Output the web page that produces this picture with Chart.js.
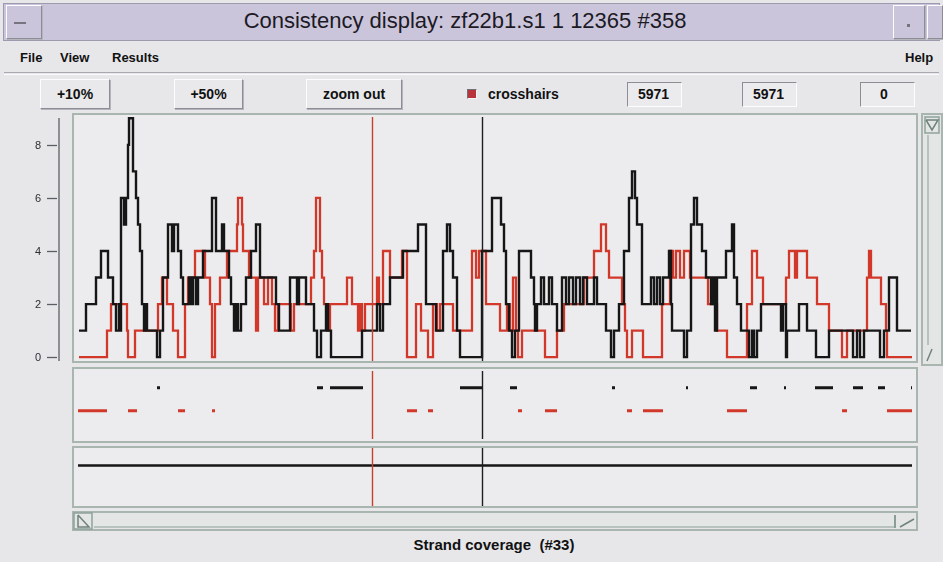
<!DOCTYPE html>
<html>
<head>
<meta charset="utf-8">
<title>Consistency display</title>
<script src="https://cdn.jsdelivr.net/npm/chart.js@4.4.1/dist/chart.umd.min.js"></script>
<style>
  body { margin:0; width:943px; height:562px; background:#e7e7ea; position:relative; overflow:hidden;
         font-family:"Liberation Sans", Arial, sans-serif; color:#111; }
  .box { position:absolute; box-sizing:border-box; }
  .raised { border:1px solid; border-color:#fdfdff #8d8d96 #8d8d96 #fdfdff; box-shadow:1px 1px 0 #b4b4bc; }
  .sunken { border:1px solid; border-color:#8d8d96 #fdfdff #fdfdff #8d8d96; }
  .menu { position:absolute; top:50px; font-weight:bold; font-size:13px; }
  .btn { top:79px; height:30px; background:#e9e9ec; font-weight:bold; font-size:14px; text-align:center; line-height:28px; }
  .field { top:82px; height:25px; background:#ebebee; font-weight:bold; font-size:14px; line-height:23px; padding-left:10px; }
  canvas { position:absolute; }
</style>
</head>
<body>

<!-- window title -->
<div class="box" style="left:3px;top:3px;width:937px;height:38px;background:#cbc5dc;border:1px solid #9d99ae;"></div>
<div class="box raised" style="left:6px;top:5px;width:36px;height:34px;background:#cbc5dc;"></div>
<div class="box" style="left:14px;top:22px;width:12px;height:2px;background:#77737f;"></div>
<div class="box" style="left:3px;top:8px;width:924px;text-align:center;font-size:22px;color:#1c1a24;">Consistency display: zf22b1.s1 1 12365 #358</div>
<div class="box raised" style="left:893px;top:5px;width:32px;height:34px;background:#cbc5dc;"></div>
<div class="box" style="left:907px;top:24px;width:3px;height:3px;background:#77737f;"></div>
<div class="box raised" style="left:927px;top:5px;width:16px;height:34px;background:#cbc5dc;"></div>

<!-- menu bar -->
<div class="menu" style="left:20px;">File</div>
<div class="menu" style="left:60px;">View</div>
<div class="menu" style="left:112px;">Results</div>
<div class="menu" style="left:905px;">Help</div>
<div class="box" style="left:4px;top:72px;width:935px;height:3px;border-top:1px solid #a9a9b2;border-bottom:1px solid #fbfbfd;"></div>

<!-- toolbar -->
<div class="box raised btn" style="left:40px;width:70px;">+10%</div>
<div class="box raised btn" style="left:174px;width:69px;">+50%</div>
<div class="box raised btn" style="left:306px;width:96px;">zoom out</div>
<div class="box" style="left:467px;top:89px;width:10px;height:10px;background:#b8343a;border:1px solid;border-color:#6e6e76 #f4f4f6 #f4f4f6 #6e6e76;"></div>
<div class="box" style="left:488px;top:86px;font-weight:bold;font-size:14px;">crosshairs</div>
<div class="box sunken field" style="left:627px;width:55px;">5971</div>
<div class="box sunken field" style="left:742px;width:55px;">5971</div>
<div class="box sunken field" style="left:860px;width:55px;padding-left:19px;">0</div>

<!-- right scrollbar -->
<div class="box" style="left:921px;top:113px;width:22px;height:253px;border:2px solid #a9b6b0;background:#e4e6e6;"></div>
<svg class="box" style="left:921px;top:113px;" width="22" height="253">
  <rect x="4" y="4" width="14" height="16" fill="none" stroke="#8fa29a" stroke-width="1.5"/>
  <polyline points="5,7 11,17 17,7 5,7" fill="none" stroke="#6f837b" stroke-width="1.5"/>
  <line x1="7" y1="22" x2="7" y2="232" stroke="#a9b6b0" stroke-width="1.5"/>
  <line x1="6" y1="248" x2="11" y2="236" stroke="#6f837b" stroke-width="1.5"/>
</svg>

<!-- charts -->
<canvas id="mainChart" width="898" height="250" style="left:20px;top:113px;"></canvas>
<canvas id="gapChart" width="846" height="76" style="left:72px;top:367px;"></canvas>
<canvas id="spanChart" width="846" height="62" style="left:72px;top:446px;"></canvas>

<!-- bottom scrollbar -->
<div class="box" style="left:72px;top:511px;width:846px;height:20px;border:2px solid #a9b6b0;background:#e4e6e6;"></div>
<svg class="box" style="left:72px;top:511px;" width="846" height="20">
  <rect x="2" y="2" width="18" height="16" fill="none" stroke="#8fa29a" stroke-width="1.5"/>
  <polyline points="6,4 6,16 17,16 6,4" fill="none" stroke="#6f837b" stroke-width="1.5"/>
  <line x1="22" y1="16" x2="822" y2="16" stroke="#a9b6b0" stroke-width="1.5"/>
  <line x1="823" y1="4" x2="823" y2="17" stroke="#6f837b" stroke-width="1.5"/>
  <line x1="828" y1="16" x2="842" y2="8" stroke="#6f837b" stroke-width="1.5"/>
</svg>

<div class="box" style="left:0;top:536px;width:988px;text-align:center;font-weight:bold;font-size:15px;">Strand coverage&nbsp; (#33)</div>

<script>
// coverage steps: position where a new depth starts, and the depth from there on
const blackPos = [
  7, 14, 24, 29, 36, 41, 44, 47, 48, 49,
  52, 54, 56, 57, 61, 64, 66, 68, 70, 72,
  73, 75, 85, 88, 91, 96, 100, 102, 106, 109,
  111, 117, 119, 121, 124, 126, 131, 140, 144, 150,
  152, 157, 159, 162, 164, 166, 169, 174, 179, 184,
  188, 204, 207, 218, 225, 227, 234, 242, 245, 249,
  254, 256, 259, 290, 305, 308, 311, 318, 331, 346,
  354, 364, 371, 375, 378, 381, 385, 388, 410, 420,
  429, 432, 434, 437, 440, 443, 447, 459, 462, 463,
  465, 469, 472, 477, 480, 485, 490, 494, 497, 501,
  504, 508, 511, 515, 522, 525, 534, 539, 542, 547,
  552, 557, 560, 563, 565, 570, 579, 582, 585, 588,
  591, 597, 599, 600, 612, 615, 619, 622, 625, 630,
  634, 639, 641, 643, 645, 654, 660, 662, 665, 669,
  677, 680, 682, 685, 689, 709, 711, 714, 715, 727,
  735, 744, 757, 781, 785, 788, 792, 808, 812, 817,
  825, 839
];
const blackCov = [
  1, 2, 3, 4, 3, 2, 1, 2, 1, 6,
  5, 6, 8, 9, 7, 6, 5, 4, 2, 1,
  2, 1, 0, 1, 3, 5, 4, 5, 4, 3,
  2, 3, 2, 3, 2, 3, 4, 6, 4, 5,
  4, 3, 2, 1, 2, 1, 2, 3, 4, 5,
  3, 2, 1, 3, 2, 3, 2, 1, 0, 1,
  2, 1, 0, 1, 2, 1, 2, 3, 4, 5,
  2, 1, 4, 5, 4, 3, 1, 0, 4, 6,
  5, 4, 2, 1, 0, 1, 4, 3, 2, 1,
  2, 3, 2, 3, 2, 1, 3, 2, 3, 2,
  3, 2, 3, 2, 3, 2, 1, 0, 1, 2,
  4, 6, 7, 6, 5, 2, 3, 2, 3, 2,
  3, 4, 2, 1, 0, 1, 5, 6, 5, 4,
  3, 2, 3, 1, 3, 4, 5, 3, 2, 1,
  0, 1, 0, 1, 2, 1, 2, 0, 1, 2,
  1, 0, 1, 0, 1, 0, 1, 0, 1, 3,
  1, 1
];

const redPos = [
  7, 35, 39, 55, 56, 63, 86, 90, 95, 101,
  106, 113, 116, 123, 133, 138, 140, 143, 148, 155,
  165, 166, 170, 171, 177, 184, 186, 192, 196, 200,
  203, 206, 219, 222, 239, 242, 244, 248, 250, 252,
  255, 258, 275, 280, 286, 288, 290, 293, 305, 307,
  311, 318, 330, 335, 344, 349, 356, 361, 365, 368,
  381, 400, 404, 407, 414, 428, 435, 438, 441, 444,
  446, 450, 473, 485, 492, 512, 522, 529, 534, 537,
  550, 553, 555, 560, 571, 590, 598, 601, 604, 608,
  612, 618, 636, 645, 655, 675, 680, 685, 691, 714,
  717, 723, 725, 735, 745, 757, 770, 775, 795, 797,
  799, 809, 814, 815, 840
];
const redCov = [
  0, 1, 2, 1, 0, 1, 2, 3, 2, 1,
  0, 2, 3, 4, 3, 2, 0, 2, 3, 4,
  5, 6, 5, 4, 3, 1, 3, 2, 3, 2,
  1, 2, 1, 2, 3, 4, 6, 4, 3, 2,
  1, 2, 3, 2, 1, 2, 1, 2, 3, 2,
  4, 3, 4, 0, 2, 1, 0, 2, 1, 2,
  1, 4, 3, 4, 2, 1, 2, 1, 3, 1,
  0, 1, 0, 1, 2, 3, 4, 5, 4, 3,
  2, 1, 0, 1, 0, 2, 4, 3, 4, 3,
  4, 3, 2, 1, 0, 2, 4, 3, 2, 3,
  4, 3, 4, 3, 2, 1, 0, 1, 3, 4,
  3, 2, 1, 0, 0
];

// stretches with no coverage, shown in the middle strip
const blackGaps = [[85,88],[245,251],[258,291],[388,411],[438,445],[540,543],[614,616],
                   [678,685],[712,714],[743,761],[781,791],[806,813],[839,840]];
const redGaps = [[6,35],[56,65],[106,113],[140,143],[335,345],[356,361],[446,450],
                 [473,485],[555,560],[571,591],[655,675],[770,775],[815,840]];

// consensus span in the lower strip
const spanStart = 6;
const spanEnd = 840;

const yTicks = [0, 2, 4, 6, 8];
const crossPos = [300, 409.5];
const crossColors = ['#c8402c', '#1e1e1e'];

const xMin = 0, xMax = 846;
const blackCol = '#161616';
const redCol = '#d2382a';

function steps(pos, cov) {
  return pos.map((p, i) => ({ x: p, y: cov[i] }));
}

function gapRow(gaps, row) {
  const out = [];
  gaps.forEach(g => {
    out.push({ x: g[0], y: row }, { x: g[1], y: row }, { x: g[1], y: null });
  });
  return out;
}

const panelFrame = {
  id: 'panelFrame',
  beforeDraw(chart) {
    const { ctx, chartArea: a } = chart;
    ctx.save();
    ctx.fillStyle = '#ececee';
    ctx.fillRect(a.left, a.top, a.width, a.height);
    ctx.strokeStyle = '#a9b6b0';
    ctx.lineWidth = 2;
    ctx.strokeRect(a.left + 1, a.top + 1, a.width - 2, a.height - 2);
    ctx.restore();
  }
};

const crosshairs = {
  id: 'crosshairs',
  afterDatasetsDraw(chart, args, opts) {
    const { ctx, chartArea: a, scales: { x } } = chart;
    ctx.save();
    crossPos.forEach((p, i) => {
      const px = Math.round(x.getPixelForValue(p)) + 0.5;
      ctx.strokeStyle = crossColors[i];
      ctx.lineWidth = 1.4;
      ctx.beginPath();
      ctx.moveTo(px, a.top + opts.top);
      ctx.lineTo(px, a.bottom - opts.bottom);
      ctx.stroke();
    });
    ctx.restore();
  }
};

// y axis of the old widget: line a little left of the panel, ticks and labels
const sideAxis = {
  id: 'sideAxis',
  afterDraw(chart) {
    const { ctx, chartArea: a, scales: { y } } = chart;
    const ax = a.left - 13;
    ctx.save();
    ctx.strokeStyle = '#5b5e63';
    ctx.lineWidth = 1.3;
    ctx.beginPath();
    ctx.moveTo(ax, a.top + 5);
    ctx.lineTo(ax, a.bottom - 2);
    ctx.stroke();
    ctx.fillStyle = '#2e2e33';
    ctx.font = '11px "Liberation Sans", Arial, sans-serif';
    ctx.textAlign = 'right';
    ctx.textBaseline = 'middle';
    yTicks.forEach(v => {
      const py = Math.round(y.getPixelForValue(v)) + 0.5;
      ctx.beginPath();
      ctx.moveTo(ax - 12, py);
      ctx.lineTo(ax - 2, py);
      ctx.stroke();
      ctx.fillText(String(v), ax - 18, py);
    });
    ctx.restore();
  }
};

const hiddenX = { type: 'linear', min: xMin, max: xMax, display: false };

new Chart(document.getElementById('mainChart'), {
  type: 'line',
  data: {
    datasets: [
      { label: 'reverse', data: steps(redPos, redCov), borderColor: redCol, borderWidth: 2.3,
        stepped: 'before', pointRadius: 0, order: 2 },
      { label: 'forward', data: steps(blackPos, blackCov), borderColor: blackCol, borderWidth: 2.4,
        stepped: 'before', pointRadius: 0, order: 1 }
    ]
  },
  options: {
    responsive: false,
    animation: false,
    events: [],
    layout: { padding: 0 },
    scales: {
      x: hiddenX,
      y: {
        min: -0.22, max: 9.2,
        ticks: { display: false },
        grid: { display: false },
        border: { display: false },
        afterFit(scale) { scale.width = 52; }
      }
    },
    plugins: {
      legend: { display: false },
      tooltip: { enabled: false },
      crosshairs: { top: 4, bottom: 2 }
    }
  },
  plugins: [panelFrame, crosshairs, sideAxis]
});

new Chart(document.getElementById('gapChart'), {
  type: 'line',
  data: {
    datasets: [
      { label: 'forward gaps', data: gapRow(blackGaps, 1), borderColor: blackCol, borderWidth: 3,
        pointRadius: 0, spanGaps: false, borderCapStyle: 'butt' },
      { label: 'reverse gaps', data: gapRow(redGaps, 0), borderColor: redCol, borderWidth: 3,
        pointRadius: 0, spanGaps: false, borderCapStyle: 'butt' }
    ]
  },
  options: {
    responsive: false,
    animation: false,
    events: [],
    scales: { x: hiddenX, y: { min: -1.4, max: 1.9, display: false } },
    plugins: { legend: { display: false }, tooltip: { enabled: false }, crosshairs: { top: 4, bottom: 4 } }
  },
  plugins: [panelFrame, crosshairs]
});

new Chart(document.getElementById('spanChart'), {
  type: 'line',
  data: {
    datasets: [
      { label: 'span', data: [{ x: spanStart, y: 1 }, { x: spanEnd, y: 1 }], borderColor: blackCol,
        borderWidth: 2.5, pointRadius: 0 }
    ]
  },
  options: {
    responsive: false,
    animation: false,
    events: [],
    scales: { x: hiddenX, y: { min: -1.2, max: 2, display: false } },
    plugins: { legend: { display: false }, tooltip: { enabled: false }, crosshairs: { top: 2, bottom: 2 } }
  },
  plugins: [panelFrame, crosshairs]
});
</script>
</body>
</html>
